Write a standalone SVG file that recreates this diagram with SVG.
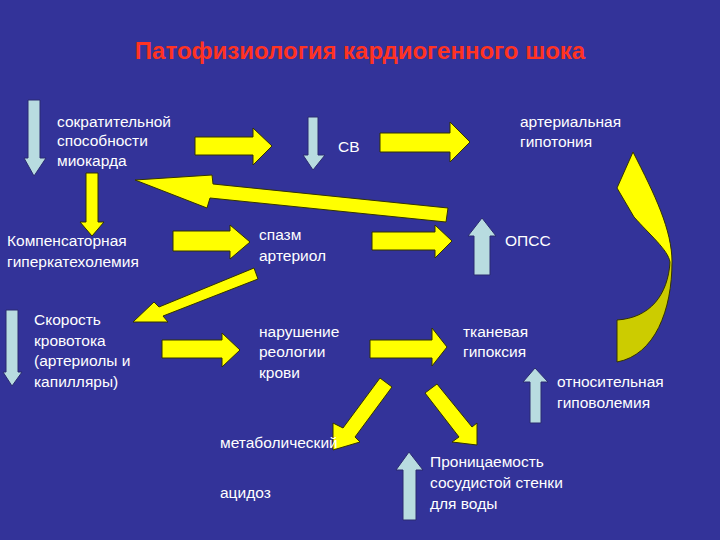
<svg xmlns="http://www.w3.org/2000/svg" width="720" height="540" viewBox="0 0 720 540">
<defs>
<linearGradient id="cg" x1="0" y1="0" x2="0" y2="1" gradientUnits="objectBoundingBox">
<stop offset="0.52" stop-color="#FFFF00"/><stop offset="0.54" stop-color="#CCCC00"/><stop offset="1" stop-color="#CCCC00"/>
</linearGradient>
</defs>
<style>
text{font-family:"Liberation Sans",Arial,sans-serif;font-size:15.5px;fill:#FFFFFF}
.y{fill:#FFFF00;stroke:#333300;stroke-width:1}
.b{fill:#B8DCE0;stroke:#2A2A70;stroke-width:1}
.t{font-size:24px;font-weight:bold;fill:#FF3322}
</style>
<rect width="720" height="540" fill="#333399"/>
<text class="t" x="360" y="59" text-anchor="middle">Патофизиология кардиогенного шока</text>
<g id="connectors">
<polygon class="b" points="28,100 40,100 40,158 46,158 34,176 24,158 28,158"/>
<polygon class="y" points="86,173 98,173 98,222 104,222 92,236 80,222 86,222"/>
<polygon class="y" points="195,137 253,137 253,128 272,146 253,165 253,155 195,155"/>
<polygon class="b" points="308,117 318,117 318,155 325,155 313,170 303,155 308,155"/>
<polygon class="y" points="380,133 450,133 450,122 470,142 450,162 450,152 380,152"/>
<polygon class="y" points="135,180 212,175 213,184 448,208 446,222 210,198 207,208"/>
<polygon class="y" points="173,231 230,231 230,225 250,242 230,259 230,251 173,251"/>
<polygon class="y" points="133,322 154,302 159,307 254,268 258,279 163,316 168,322"/>
<polygon class="b" points="6,310 18,310 18,372 22,372 12,386 3,372 6,372"/>
<polygon class="y" points="162,340 222,340 222,333 240,350 222,367 222,358 162,358"/>
<polygon class="y" points="372,232 435,232 435,225 452,241 435,258 435,250 372,250"/>
<polygon class="b" points="482,218 496,236 490,236 490,275 474,275 474,236 468,236"/>
<polygon class="y" points="370,340 432,340 432,328 447,347 432,366 432,358 370,358"/>
<path d="M617,362 C655,355 672,310 672,262 C672,230 655,195 633,152 L617,188 L634,217 C650,235 668,250 670,262 C668,295 650,318 617,320 Z" fill="url(#cg)" stroke="#333300" stroke-width="1"/>
<polygon class="b" points="535,368 548,382 541,382 541,423 530,423 530,382 523,382"/>
<polygon class="y" points="333,450 333,423 343,428 380,378 392,387 355,437 360,442"/>
<polygon class="y" points="437,384 472,427 477,423 477,445 452,442 459,437 425,393"/>
<polygon class="b" points="409,452 423,470 416,470 416,520 403,520 403,470 396,470"/>
</g>
<g id="n1"><text x="57" y="127">сократительной</text><text x="57" y="146">способности</text><text x="57" y="166">миокарда</text></g>
<g id="n2"><text x="338" y="152">СВ</text></g>
<g id="n3"><text x="520" y="127">артериальная</text><text x="520" y="147">гипотония</text></g>
<g id="n4"><text x="7" y="246">Компенсаторная</text><text x="7" y="267">гиперкатехолемия</text></g>
<g id="n5"><text x="259" y="240">спазм</text><text x="259" y="261">артериол</text></g>
<g id="n6"><text x="505" y="246">ОПСС</text></g>
<g id="n7"><text x="34" y="325">Скорость</text><text x="34" y="346">кровотока</text><text x="34" y="366">(артериолы и</text><text x="34" y="387">капилляры)</text></g>
<g id="n8"><text x="259" y="337">нарушение</text><text x="259" y="357">реологии</text><text x="259" y="378">крови</text></g>
<g id="n9"><text x="463" y="337">тканевая</text><text x="463" y="357">гипоксия</text></g>
<g id="n10"><text x="557" y="387">относительная</text><text x="557" y="408">гиповолемия</text></g>
<g id="n11"><text x="220" y="448">метаболический</text><text x="220" y="498">ацидоз</text></g>
<g id="n12"><text x="430" y="467">Проницаемость</text><text x="430" y="488">сосудистой стенки</text><text x="430" y="509">для воды</text></g>
</svg>
